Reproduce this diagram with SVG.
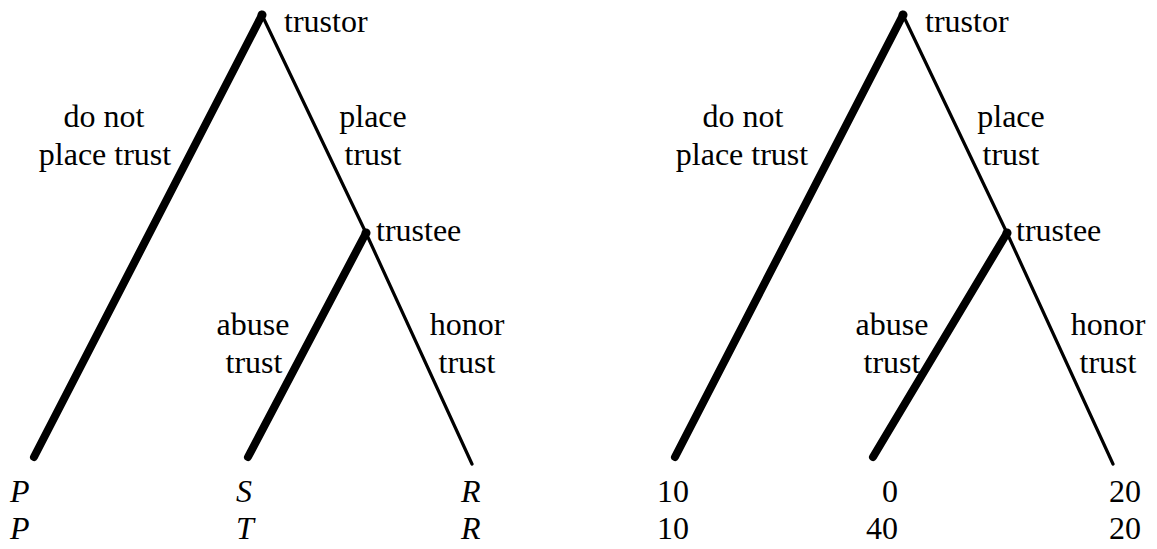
<svg xmlns="http://www.w3.org/2000/svg" width="1157" height="549" viewBox="0 0 1157 549">
  <style>
    text { font-family: "Liberation Serif", "Times New Roman", serif; font-size: 32px; fill: #000; }
    .c { text-anchor: middle; }
    .e { text-anchor: end; }
    .i { font-style: italic; }
    .thick { stroke: #000; stroke-width: 8; stroke-linecap: round; fill: none; }
    .thin { stroke: #000; stroke-width: 3.2; stroke-linecap: round; fill: none; }
  </style>

  <!-- Left game tree: symbolic payoffs -->
  <g id="edges-left">
    <line class="thick" x1="262" y1="15" x2="34" y2="457"/>
    <line class="thin" x1="262" y1="15" x2="366" y2="233"/>
    <line class="thick" x1="366" y1="233" x2="248" y2="457"/>
    <line class="thin" x1="366" y1="233" x2="472" y2="464"/>
  </g>
  <g id="trustor-left">
    <circle cx="262" cy="15" r="4.5"/>
    <text x="284" y="32">trustor</text>
  </g>
  <g id="trustee-left">
    <circle cx="366" cy="233" r="4.5"/>
    <text x="376" y="241">trustee</text>
  </g>
  <g id="labels-left">
    <text class="c" x="104" y="127">do not</text>
    <text class="c" x="105" y="165">place trust</text>
    <text class="c" x="373" y="127">place</text>
    <text class="c" x="373" y="165">trust</text>
    <text class="c" x="253" y="335">abuse</text>
    <text class="c" x="254" y="373">trust</text>
    <text class="c" x="467" y="335">honor</text>
    <text class="c" x="467" y="373">trust</text>
  </g>
  <g id="payoffs-left">
    <text class="i" x="10" y="502">P</text>
    <text class="i" x="10" y="539">P</text>
    <text class="i" x="236" y="502">S</text>
    <text class="i" x="236" y="539">T</text>
    <text class="i" x="461" y="502">R</text>
    <text class="i" x="461" y="539">R</text>
  </g>

  <!-- Right game tree: numeric payoffs -->
  <g id="edges-right">
    <line class="thick" x1="903" y1="15" x2="675" y2="457"/>
    <line class="thin" x1="903" y1="15" x2="1007" y2="233"/>
    <line class="thick" x1="1007" y1="233" x2="873" y2="457"/>
    <line class="thin" x1="1007" y1="233" x2="1113" y2="464"/>
  </g>
  <g id="trustor-right">
    <circle cx="903" cy="15" r="4.5"/>
    <text x="925" y="32">trustor</text>
  </g>
  <g id="trustee-right">
    <circle cx="1007" cy="233" r="4.5"/>
    <text x="1016" y="241">trustee</text>
  </g>
  <g id="labels-right">
    <text class="c" x="743" y="127">do not</text>
    <text class="c" x="742" y="165">place trust</text>
    <text class="c" x="1011" y="127">place</text>
    <text class="c" x="1011" y="165">trust</text>
    <text class="c" x="892" y="335">abuse</text>
    <text class="c" x="892" y="373">trust</text>
    <text class="c" x="1108" y="335">honor</text>
    <text class="c" x="1108" y="373">trust</text>
  </g>
  <g id="payoffs-right">
    <text class="e" x="689" y="502">10</text>
    <text class="e" x="689" y="539">10</text>
    <text class="e" x="898" y="502">0</text>
    <text class="e" x="898" y="539">40</text>
    <text class="e" x="1141" y="502">20</text>
    <text class="e" x="1141" y="539">20</text>
  </g>
</svg>
